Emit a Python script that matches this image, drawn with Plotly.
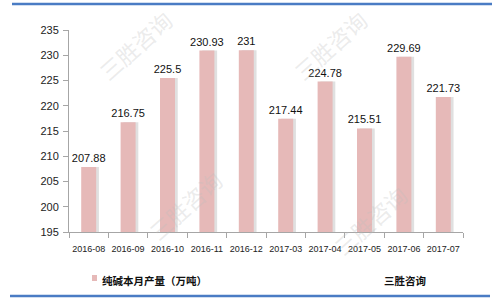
import plotly.graph_objects as go

categories = ["2016-08", "2016-09", "2016-10", "2016-11", "2016-12",
              "2017-03", "2017-04", "2017-05", "2017-06", "2017-07"]
values = [207.88, 216.75, 225.5, 230.93, 231, 217.44, 224.78, 215.51, 229.69, 221.73]
labels = ["207.88", "216.75", "225.5", "230.93", "231", "217.44", "224.78", "215.51", "229.69", "221.73"]
series_name = "纯碱本月产量（万吨）"

L, R, T, B = 69, 37, 30, 71
W, H = 500, 303
pw = W - L - R
ph = H - T - B


def px(x):
    return (x - L) / pw


def py(y):
    return (H - B - y) / ph


fig = go.Figure()
# shadow
fig.add_trace(go.Bar(
    x=categories, y=values,
    width=0.38, offset=-0.12,
    marker=dict(color="#E0E0E0", line=dict(width=0)),
    showlegend=False, hoverinfo="skip",
))
fig.add_trace(go.Bar(
    x=categories, y=values, name=series_name,
    width=0.38, offset=-0.19,
    marker=dict(color="#E6B9B8", line=dict(width=0)),
    text=labels, textposition="outside", cliponaxis=False, constraintext="none",
    textfont=dict(size=11, color="#111111", family="Liberation Sans, Arial"),
    showlegend=False,
))

# watermark texts
for (wx, wy) in [(135, 45), (330, 45), (185, 205), (370, 220)]:
    fig.add_annotation(x=px(wx), y=py(wy), xref="paper", yref="paper",
                       xanchor="center", yanchor="middle",
                       text="三胜咨询", showarrow=False, textangle=-42,
                       font=dict(size=22, color="rgba(190,190,190,0.3)",
                                 family="Noto Sans CJK SC"))

# legend (manual)
fig.add_annotation(x=px(100), y=py(280), xref="paper", yref="paper",
                   xanchor="left", yanchor="middle",
                   text="<b>" + series_name + "</b>", showarrow=False,
                   font=dict(size=10.5, color="#111111", family="Noto Sans CJK SC"))

fig.add_annotation(x=px(405), y=py(280), xref="paper", yref="paper",
                   xanchor="center", yanchor="middle",
                   text="<b>三胜咨询</b>", showarrow=False,
                   font=dict(size=10.5, color="#111111", family="Noto Sans CJK SC"))

fig.update_layout(
    width=W, height=H,
    margin=dict(l=L, r=R, t=T, b=B, autoexpand=False),
    paper_bgcolor="white", plot_bgcolor="white",
    barmode="overlay",
    font=dict(family="Liberation Sans, Arial", color="#222222"),
    showlegend=False,
    xaxis=dict(type="category", showline=True, linecolor="#A6A6A6", linewidth=1,
               ticks="outside", tickson="boundaries", ticklen=5, tickcolor="#A6A6A6",
               tickangle=0, automargin=False, ticklabelstandoff=8,
               tickfont=dict(size=9, color="#222222"), showgrid=False),
    yaxis=dict(range=[195, 235], dtick=5, showline=True, linecolor="#A6A6A6", linewidth=1,
               ticks="outside", ticklen=5, tickcolor="#A6A6A6", showgrid=False,
               automargin=False, ticklabelstandoff=2,
               zeroline=False, tickfont=dict(size=11, color="#222222")),
    shapes=[
        dict(type="line", xref="paper", yref="paper", x0=px(12), x1=px(492),
             y0=py(4), y1=py(4), line=dict(color="#4A7CC4", width=2.5)),
        dict(type="line", xref="paper", yref="paper", x0=px(10), x1=px(490),
             y0=py(296), y1=py(296), line=dict(color="#4A7CC4", width=2.5)),
        dict(type="rect", xref="paper", yref="paper", x0=px(92), x1=px(97),
             y0=py(275), y1=py(281), fillcolor="#E6B9B8", line=dict(width=0)),
    ],
)

fig.write_html("out.html")
